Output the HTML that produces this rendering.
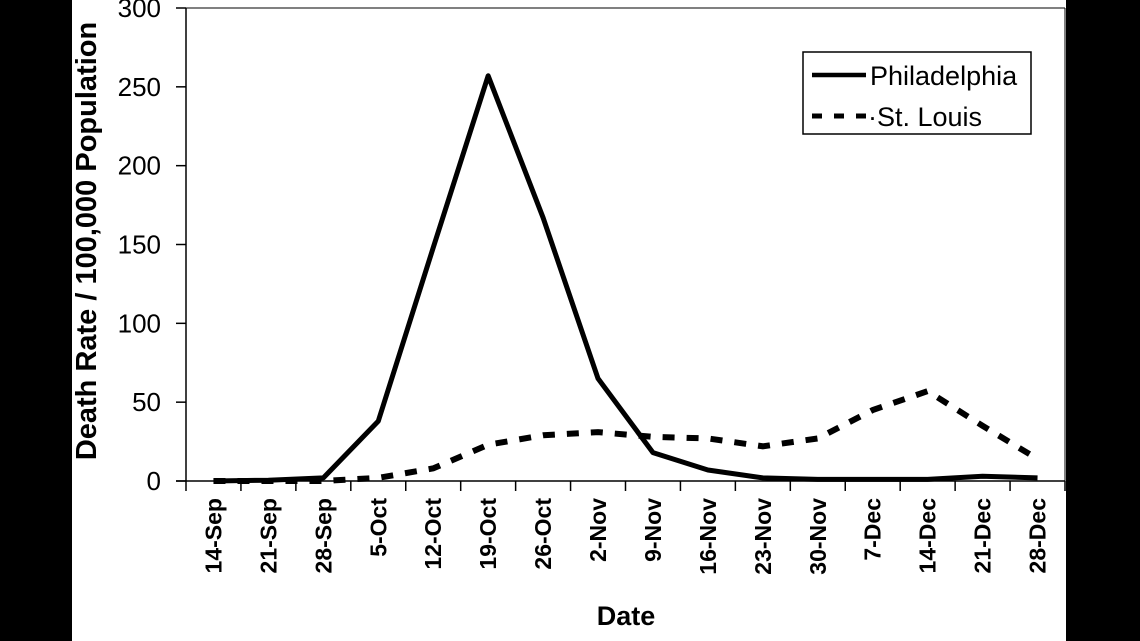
<!DOCTYPE html>
<html><head><meta charset="utf-8"><style>
html,body{margin:0;padding:0;background:#000;}
svg{display:block;font-family:"Liberation Sans",Arial,sans-serif;}
</style></head><body>
<svg id="chart" width="1140" height="641" viewBox="0 0 1140 641">
<rect x="0" y="0" width="1140" height="641" fill="#000"/>
<rect x="72" y="0" width="994" height="641" fill="#fff"/>
<g id="axes"></g>
<g id="series"></g>
<text x="0" y="0" transform="translate(96,241) rotate(-90)" text-anchor="middle" font-size="29" font-weight="bold">Death Rate / 100,000 Population</text>
<text x="626" y="625" text-anchor="middle" font-size="27" font-weight="bold">Date</text>
<g>
<rect x="803" y="52" width="228" height="82" fill="#fff" stroke="#000" stroke-width="1.5"/>
<line x1="812" y1="75" x2="866" y2="75" stroke="#000" stroke-width="4.5"/>
<text x="870" y="85" font-size="27">Philadelphia</text>
<line x1="812" y1="116" x2="866" y2="116" stroke="#000" stroke-width="5" stroke-dasharray="10,12"/>
<text x="868" y="126" font-size="27">·St. Louis</text>
</g>
</svg>
<script>
const categories = ["14-Sep","21-Sep","28-Sep","5-Oct","12-Oct","19-Oct","26-Oct","2-Nov","9-Nov","16-Nov","23-Nov","30-Nov","7-Dec","14-Dec","21-Dec","28-Dec"];
const philadelphia = [0,0.5,2,38,148,257,167,65,18,7,2,1,1,1,3,2];
const stLouis = [0,0,0,2,8,23,29,31,28,27,22,27,45,57,35,14];
const yTicks = [0,50,100,150,200,250,300];

const NS = "http://www.w3.org/2000/svg";
const L = 186, R = 1065, T = 8, B = 481;
const yMax = 300;
const bw = (R - L) / categories.length;
function x(i){ return L + bw * (i + 0.5); }
function y(v){ return B - (v / yMax) * (B - T); }
function mk(tag, attrs, parent){
  const e = document.createElementNS(NS, tag);
  for (const k in attrs) e.setAttribute(k, attrs[k]);
  parent.appendChild(e);
  return e;
}
const axes = document.getElementById("axes");
const series = document.getElementById("series");

let a = mk("line",{x1:L,y1:T,x2:L,y2:B,stroke:"#000","stroke-width":1.5},axes);


a = mk("line",{x1:L,y1:T,x2:R,y2:T,stroke:"#000","stroke-width":1},axes);


a = mk("line",{x1:R,y1:T,x2:R,y2:B,stroke:"#000","stroke-width":1},axes);


a = mk("line",{x1:L-10,y1:B,x2:R,y2:B,stroke:"#000","stroke-width":1.5},axes);



yTicks.forEach(v=>{
  const tk = mk("line",{x1:L-10,y1:y(v),x2:L,y2:y(v),stroke:"#000","stroke-width":1.5},axes);
  
  
  const t = mk("text",{x:L-25,y:y(v)+9,"text-anchor":"end","font-size":26},axes);
  t.textContent = v;
  
  
});
for (let i=0;i<=categories.length;i++){
  const xx = L + bw*i;
  const tk = mk("line",{x1:xx,y1:B,x2:xx,y2:B+10,stroke:"#000","stroke-width":1.5},axes);
  
  
}
categories.forEach((c,i)=>{
  const t = mk("text",{x:0,y:0,transform:`translate(${x(i)+8},498) rotate(-90)`,"text-anchor":"end","font-size":23,"font-weight":"bold"},axes);
  t.textContent = c;
  
  
});

function pts(arr){ return arr.map((v,i)=>x(i)+","+y(v)).join(" "); }
const p1 = mk("polyline",{points:pts(stLouis),fill:"none",stroke:"#000","stroke-width":6,"stroke-dasharray":"12,12"},series);


const p2 = mk("polyline",{points:pts(philadelphia),fill:"none",stroke:"#000","stroke-width":5,"stroke-linejoin":"round"},series);


</script>
</body></html>
